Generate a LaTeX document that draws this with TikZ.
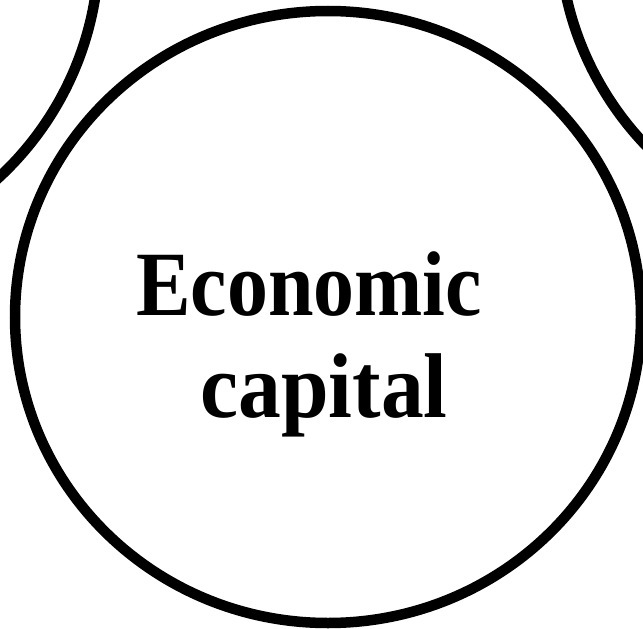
\documentclass[tikz,border=0pt]{standalone}
\usepackage{fontspec}
\setmainfont{Liberation Serif}
\tikzset{
    ring/.style={line width=10.5pt},
    capword/.style={anchor=base, inner sep=0pt, font=\bfseries\fontsize{92}{100}\selectfont}
}
\begin{document}
\begin{tikzpicture}[x=1pt, y=-1pt]
        \useasboundingbox (0,0) rectangle (643,629);
        \draw[ring] (-214,-52) circle[radius=313];
        \draw[ring] (872,-71) circle[radius=313];
        \draw[ring] (328,317) ellipse[x radius=313, y radius=306];
        \node[capword] (econ) at (309,315) {\scalebox{0.89}[1]{Economic}};
        \node[capword] (cap) at (324,417) {\scalebox{0.93}[1]{capital}};
    \end{tikzpicture}
\end{document}
